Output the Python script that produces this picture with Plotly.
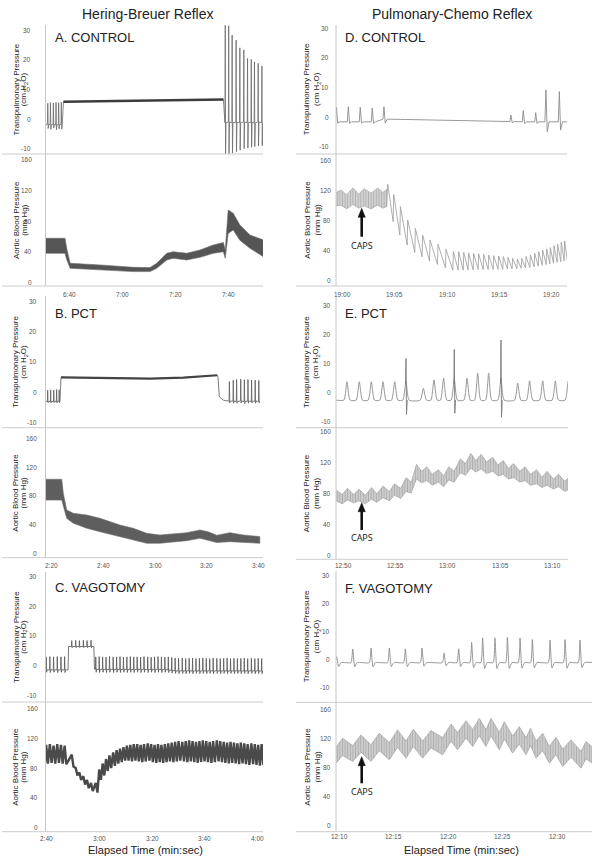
import plotly.graph_objects as go

W, H = 600, 864

# ======================= DATA =======================
# time in seconds; transpulmonary pressure in cm H2O; aortic pressure in mm Hg

# ---- A. CONTROL (Hering-Breuer) ----
a_tp_pre_t = [391.9, 392.9, 394.0, 395.0, 396.0, 397.0]
a_tp_pre_peak = [5.3, 5.5, 5.4, 5.6, 5.5, 5.7]
a_tp_pre_trough = [-3.2, -3.5, -3.0, -3.6, -3.3, -3.4]
a_tp_pre_base = [-1.8, -1.9, -1.8, -2.0, -1.9, -1.8]
a_tp_hold_t = [397.8, 420.0, 440.0, 458.0]
a_tp_hold_v = [5.8, 6.1, 6.4, 6.6]
a_tp_post_t = [458.7, 460.0, 461.3, 462.8, 464.2, 465.7, 467.1, 468.5, 469.7, 471.1, 472.5]
a_tp_post_peak = [31.6, 31.4, 28.3, 26.6, 24.0, 23.3, 20.4, 20.1, 19.3, 18.8, 17.9]
a_tp_post_trough = [-11.7, -11.7, -11.5, -11.0, -10.5, -10.0, -9.8, -9.5, -9.3, -9.1, -9.0]
a_tp_post_base = [-1.2, -1.0, -1.3, -1.1, -1.2, -1.0, -1.2, -1.1, -1.3, -1.0, -1.2]

a_bp_t = [390.9, 398.4, 399.0, 400.3, 411.6, 424.1, 430.4, 432.9, 436.7, 439.1,
          444.2, 449.2, 454.2, 458.0, 458.7, 459.8, 461.7, 464.2, 468.0, 473.0]
a_bp_hi = [57.6, 57.6, 45.0, 24.9, 22.7, 19.6, 19.2, 24.9, 38.0, 40.0,
           38.0, 42.3, 48.8, 52.0, 42.0, 94.6, 90.3, 75.0, 62.0, 55.4]
a_bp_lo = [37.9, 37.9, 30.0, 18.3, 16.0, 14.0, 14.0, 18.3, 29.2, 31.4,
           29.2, 32.7, 37.9, 40.0, 31.4, 64.0, 68.5, 55.0, 44.5, 33.6]

# ---- B. PCT (Hering-Breuer) ----
b_tp_pre_t = [138.45, 139.6, 140.8, 141.9, 142.9]
b_tp_pre_peak = [0.7, 0.8, 0.7, 0.9, 0.8]
b_tp_pre_trough = [-3.4, -3.5, -3.4, -3.5, -3.4]
b_tp_pre_base = [-3.0, -3.0, -3.0, -3.0, -3.0]
b_tp_hold_t = [143.6, 158.7, 178.1, 191.0, 204.1]
b_tp_hold_v = [4.9, 4.8, 4.5, 4.8, 5.6]
b_tp_release_t = [204.4, 204.9, 206.5, 208.0]
b_tp_release_v = [5.0, -1.5, -2.6, -2.9]
b_tp_post_t = [208.8, 210.3, 211.6, 213.2, 214.6, 216.0, 217.4, 218.8, 220.2]
b_tp_post_peak = [3.5, 4.0, 4.2, 4.3, 4.1, 4.2, 4.0, 4.0, 3.9]
b_tp_post_trough = [-3.5, -3.6, -3.6, -3.5, -3.7, -3.6, -3.5, -3.6, -3.5]
b_tp_post_base = [-2.9, -2.9, -3.0, -2.9, -3.0, -2.9, -3.0, -2.9, -3.0]

b_bp_t = [137.4, 143.9, 144.5, 145.8, 148.4, 153.6, 158.7, 162.6, 166.4, 171.6,
          176.8, 181.9, 187.1, 192.3, 197.4, 200.6, 203.9, 209.0, 214.2, 220.6]
b_bp_hi = [103, 103, 83.5, 60.3, 55.6, 53.3, 48.7, 44, 39.4, 34.8,
           27.8, 25.5, 27, 28.7, 32.4, 30, 25, 28.7, 25.5, 23.2]
b_bp_lo = [74, 74, 65, 48.7, 41.7, 34.8, 30, 25.5, 23.2, 18.5,
           13.9, 13.9, 15.3, 17.6, 20.9, 18.5, 15, 16.2, 14.8, 13.9]

# ---- C. VAGOTOMY (Hering-Breuer) ----
c_tp_pre_t = [159.8, 161.2, 162.6, 164.0, 165.4, 166.8]
c_tp_pre_peak = [2.9, 3.0, 2.9, 3.0, 2.9, 3.0]
c_tp_pre_trough = [-2.3, -2.4, -2.3, -2.4, -2.3, -2.4]
c_tp_pre_base = [-1.5, -1.5, -1.5, -1.5, -1.5, -1.5]
c_tp_hold_t = [169.5, 171.0, 172.4, 173.9, 175.3, 176.8]
c_tp_hold_peak = [8.4, 8.5, 8.4, 8.5, 8.4, 8.5]
c_tp_hold_trough = [6.0, 6.0, 6.0, 6.0, 6.0, 6.0]
c_tp_hold_base = [6.4, 6.4, 6.4, 6.4, 6.4, 6.4]
c_tp_post_t = [178.6, 179.9, 181.2, 182.5, 183.8, 185.2, 186.5, 187.8, 189.1, 190.4,
               191.7, 193.0, 194.3, 195.6, 196.9, 198.3, 199.6, 200.9, 202.2, 203.5,
               204.8, 206.1, 207.4, 208.7, 210.0, 211.4, 212.7, 214.0, 215.3, 216.6,
               217.9, 219.2, 220.5, 221.8, 223.1, 224.5, 225.8, 227.1, 228.4, 229.7,
               231.0, 232.3, 233.6, 234.9, 236.2, 237.6, 238.9, 240.2, 241.5]
c_tp_post_peak = [2.9, 3.0, 2.9, 2.8, 3.0, 2.9, 2.9, 3.0, 2.8, 2.9,
                  3.0, 2.9, 2.9, 2.8, 3.0, 2.9, 2.8, 2.9, 3.0, 2.9,
                  2.8, 2.9, 2.7, 2.5, 2.4, 2.5, 2.3, 2.4, 2.5, 2.3,
                  2.4, 2.5, 2.4, 2.3, 2.5, 2.4, 2.3, 2.4, 2.5, 2.3,
                  2.4, 2.3, 2.4, 2.5, 2.3, 2.4, 2.3, 2.4, 2.3]
c_tp_post_trough = [-2.3, -2.4, -2.3, -2.4, -2.3, -2.4, -2.3, -2.4, -2.3, -2.4,
                    -2.3, -2.4, -2.3, -2.4, -2.3, -2.4, -2.3, -2.4, -2.3, -2.4,
                    -2.3, -2.4, -2.6, -2.7, -2.8, -2.7, -2.8, -2.7, -2.8, -2.7,
                    -2.8, -2.7, -2.8, -2.7, -2.8, -2.7, -2.8, -2.7, -2.8, -2.7,
                    -2.8, -2.7, -2.8, -2.7, -2.8, -2.7, -2.8, -2.7, -2.8]
c_tp_post_base = [-1.3, -1.4, -1.3, -1.4, -1.3, -1.4, -1.3, -1.4, -1.3, -1.4,
                  -1.3, -1.4, -1.3, -1.4, -1.3, -1.4, -1.3, -1.4, -1.3, -1.4,
                  -1.4, -1.5, -1.7, -1.8, -1.9, -1.8, -1.9, -1.8, -1.9, -1.8,
                  -1.9, -1.8, -1.9, -1.8, -1.9, -1.8, -1.9, -1.8, -1.9, -1.8,
                  -1.9, -1.8, -1.9, -1.8, -1.9, -1.8, -1.9, -1.8, -1.9]
# aortic pressure, one peak / trough per ventilator breath (pre, hold, post breaths)
c_bp_peak = [111, 112, 110, 112, 111, 110,
             98, 80, 74, 69, 64, 60,
             60, 78, 86, 92, 97, 101, 104, 106, 108, 110,
             111, 112, 112, 111, 112, 113, 112, 111, 112, 111,
             112, 113, 114, 115, 116, 115, 116, 117, 116, 115,
             116, 117, 116, 115, 116, 117, 116, 115, 114, 115,
             114, 113, 114, 113, 112, 113, 112, 111, 112]
c_bp_trough = [86, 87, 86, 87, 86, 85,
               82, 70, 64, 58, 53, 49,
               47, 64, 70, 76, 80, 83, 86, 88, 90, 90,
               89, 90, 89, 88, 89, 90, 88, 87, 88, 87,
               88, 89, 88, 89, 90, 89, 88, 89, 88, 87,
               88, 89, 88, 87, 88, 89, 88, 87, 86, 87,
               86, 85, 86, 85, 84, 85, 84, 83, 84]

# ---- D. CONTROL (Pulmonary-Chemo) ----
d_tp_t = [1139.4, 1140.54, 1141.68, 1142.83, 1143.95, 1156.1, 1157.28, 1158.47, 1159.45, 1160.73]
d_tp_peak = [3.3, 3.5, 3.3, 3.1, 3.5, 0.7, 2.2, 1.5, 9.2, 8.6]
d_tp_under = [-2.0, -2.1, -2.0, -2.1, -2.0, -1.9, -2.2, -2.1, -4.9, -4.4]
d_tp_base = [-1.6, -1.6, -1.6, -1.6, -0.7, -1.5, -1.6, -1.6, -1.6, -1.6]
d_tp_flat_t = [1146.0, 1150.0, 1154.0, 1161.5]
d_tp_flat_v = [-0.8, -1.0, -1.4, -1.6]

d_bp_band_t = [1139.36, 1139.84, 1140.38, 1140.96, 1141.53, 1142.07, 1142.71, 1143.35, 1143.83, 1144.2]
d_bp_band_hi = [118, 121, 115, 124, 116, 123, 117, 124, 118, 122]
d_bp_band_lo = [100, 101, 96, 102, 97, 100, 96, 101, 97, 99]
d_bp_beat_t = [1144.31, 1144.88, 1145.52, 1146.22, 1146.95, 1147.65, 1148.36, 1149.12, 1149.88, 1150.59,
               1151.10, 1151.58, 1152.05, 1152.53, 1153.01, 1153.49, 1153.97, 1154.45, 1154.92, 1155.37,
               1155.82, 1156.26, 1156.71, 1157.13, 1157.54, 1157.96, 1158.37, 1158.76, 1159.14, 1159.52,
               1159.87, 1160.22, 1160.57, 1160.92, 1161.24]
d_bp_beat_peak = [128.9, 115.4, 99, 81.2, 70, 61, 54.4, 48.6, 42, 38.9,
                  38.9, 38, 37, 36.6, 36, 35.3, 34.4, 33.5, 33, 32.2,
                  31, 30, 29, 30, 32.2, 34.4, 36.6, 38.9, 41, 42.5,
                  44.2, 46.9, 48.6, 51.4, 53.2]
d_bp_beat_trough = [78.9, 61, 47.6, 37.8, 32, 26.2, 21.8, 17.3, 14.2, 14.2,
                    14.2, 14.5, 14.5, 14.8, 14.8, 15, 15, 15.3, 15.3, 15.5,
                    15.8, 16, 16.5, 17, 17.5, 18.5, 19.5, 20.5, 21.5, 22.5,
                    23.5, 24.5, 25.5, 26.5, 27]

# ---- E. PCT (Pulmonary-Chemo) ----
e_tp_t = [770.35, 771.53, 772.68, 773.8, 774.92, 776.0, 777.66, 778.68, 779.6, 780.62,
          781.84, 782.86, 783.91, 785.09, 786.69, 787.83, 789.08, 790.29, 791.53]
e_tp_peak = [3.7, 3.7, 3.7, 3.7, 3.7, 4.0, 1.4, 4.3, 4.9, 4.5,
             4.9, 6.6, 6.6, 5.0, 3.2, 4.0, 4.0, 4.0, 4.0]
e_tp_base = [-2.6, -2.6, -2.6, -2.6, -2.6, -2.6, -2.6, -2.6, -2.6, -2.6,
             -2.6, -2.6, -2.6, -2.6, -2.6, -2.6, -2.6, -2.6, -2.6]
e_tp_spk_t = [776.0, 780.62, 785.09]
e_tp_spk_hi = [11.7, 14.8, 18.0]
e_tp_spk_lo = [-7.5, -7.1, -8.5]

e_bp_t = [769.3, 769.9, 770.4, 771.0, 771.5, 772.1, 772.7, 773.2, 773.8, 774.4,
          774.9, 775.5, 776.0, 776.5, 777.0, 777.5, 778.0, 778.5, 779.1, 779.6,
          780.1, 780.6, 781.2, 781.7, 782.2, 782.7, 783.2, 783.7, 784.3, 784.8,
          785.3, 785.8, 786.3, 786.9, 787.4, 787.9, 788.5, 789.0, 789.5, 790.1,
          790.6, 791.2, 791.5]
e_bp_hi = [84, 78, 86, 78, 85, 77, 87, 79, 89, 82,
           92, 86, 100, 94, 117, 108, 114, 104, 110, 102,
           114, 108, 124, 118, 131, 122, 130, 120, 126, 116,
           122, 112, 118, 108, 114, 104, 110, 100, 108, 98,
           104, 95, 99]
e_bp_lo = [70, 66, 71, 67, 70, 66, 72, 68, 74, 70,
           77, 73, 82, 80, 98, 93, 96, 90, 94, 88,
           97, 94, 106, 103, 112, 107, 111, 105, 108, 102,
           104, 98, 100, 94, 96, 90, 92, 87, 90, 85,
           88, 82, 84]

# ---- F. VAGOTOMY (Pulmonary-Chemo) ----
f_tp_t = [729.76, 731.23, 732.91, 734.59, 736.06, 737.59, 739.61, 740.95, 742.14, 743.15,
          744.28, 745.42, 746.58, 747.71, 749.33, 750.71, 752.08]
f_tp_peak = [0.9, 3.6, 4.0, 4.0, 3.7, 4.0, 2.2, 3.7, 6.0, 7.6,
             7.6, 7.8, 7.6, 7.0, 6.8, 7.0, 6.8]
f_tp_under = [-2.6, -2.7, -2.7, -2.6, -2.6, -2.5, -2.3, -2.6, -3.0, -3.3,
              -3.3, -3.3, -3.2, -3.1, -3.1, -3.2, -3.0]
f_tp_base = [-1.2, -1.2, -1.2, -1.2, -1.2, -1.2, -1.2, -1.2, -1.2, -1.2,
             -1.2, -1.2, -1.2, -1.2, -1.2, -1.2, -1.2]

f_bp_t = [729.7, 730.31, 731.23, 731.99, 732.91, 733.67, 734.59, 735.35, 736.12, 736.79,
          737.65, 738.41, 739.48, 740.25, 740.86, 741.62, 742.24, 742.84, 743.46, 743.92,
          744.68, 745.14, 745.9, 746.51, 747.13, 747.55, 748.05, 748.66, 749.27, 749.88,
          750.49, 751.26, 752.17, 752.63, 753.2]
f_bp_hi = [108, 120, 110, 124.6, 111, 126.8, 114, 131.5, 116, 132.4,
           116, 130.6, 121, 139.7, 128, 144.3, 132, 147.5, 132, 147.5,
           128, 142.9, 123, 136, 121, 133.8, 116, 126.8, 109, 121.3,
           105, 117.7, 102, 115.4, 108]
f_bp_lo = [85.5, 96, 87.8, 100.6, 87.8, 102.8, 90.1, 107.5, 92.4, 108.4,
           92.4, 106.6, 97, 115.7, 103.9, 120.3, 108.5, 123.5, 108.5, 123.5,
           103.9, 118.9, 99.3, 112, 97, 109.8, 92.4, 102.8, 85.5, 97.3,
           80.9, 93.7, 78.6, 91.4, 85.5]

# ---- ticks ----
tp_ticks = [-10, 0, 10, 20, 30]
bp_ticks = [0, 40, 80, 120, 160]
a_xticks, a_xlabels = [400, 420, 440, 460], ["6:40", "7:00", "7:20", "7:40"]
b_xticks, b_xlabels = [140, 160, 180, 200, 220], ["2:20", "2:40", "3:00", "3:20", "3:40"]
c_xticks, c_xlabels = [160, 180, 200, 220, 240], ["2:40", "3:00", "3:20", "3:40", "4:00"]
d_xticks, d_xlabels = [1140, 1145, 1150, 1155, 1160], ["19:00", "19:05", "19:10", "19:15", "19:20"]
e_xticks, e_xlabels = [770, 775, 780, 785, 790], ["12:50", "12:55", "13:00", "13:05", "13:10"]
f_xticks, f_xlabels = [730, 735, 740, 745, 750], ["12:10", "12:15", "12:20", "12:25", "12:30"]

# ======================= LAYOUT GEOMETRY (pixels) =======================
# idx: (x0, x1, y0, y1, (v_a, py_a), (v_b, py_b), (t_a, px_a), (t_b, px_b), ytick_right_px, xtick_y_px)
geo = {
    1: (45.5, 263, 25, 154, (30, 30.0), (-10, 148.7), (400, 69.3), (460, 228.7), 32.5, None),
    2: (45.5, 263, 154, 286, (160, 160.0), (0, 282.3), (400, 69.3), (460, 228.7), 34.0, 294.0),
    3: (45.5, 263, 296, 427.7, (30, 301.0), (-10, 422.7), (140, 51.7), (220, 258.3), 39.5, None),
    4: (45.5, 263, 427.7, 557.7, (160, 438.3), (0, 553.3), (140, 51.7), (220, 258.3), 39.5, 565.0),
    5: (45.5, 263, 572, 702, (30, 576.7), (-10, 695.0), (160, 46.7), (240, 257.7), 39.5, None),
    6: (45.5, 263, 702, 831.7, (160, 708.3), (0, 827.7), (160, 46.7), (240, 257.7), 40.0, 838.0),
    7: (336, 567, 25, 154, (30, 28.3), (-10, 146.7), (1140, 342.7), (1160, 551.7), 331.0, None),
    8: (336, 567, 154, 286, (160, 161.0), (0, 280.7), (1140, 342.7), (1160, 551.7), 332.5, 294.0),
    9: (336, 568, 297, 427.7, (30, 305.0), (-10, 421.7), (770, 343.3), (790, 552.3), 332.5, None),
    10: (336, 568, 427.7, 559.3, (160, 431.0), (0, 555.0), (770, 343.3), (790, 552.3), 333.0, 565.0),
    11: (336, 592, 571, 702.3, (30, 575.0), (-10, 687.3), (730, 339.3), (750, 557.3), 332.0, None),
    12: (336, 592, 702.3, 831.7, (160, 709.3), (0, 825.0), (730, 339.3), (750, 557.3), 333.0, 836.7),
}
xtick_sets = {2: (a_xticks, a_xlabels), 4: (b_xticks, b_xlabels), 6: (c_xticks, c_xlabels),
              8: (d_xticks, d_xlabels), 10: (e_xticks, e_xlabels), 12: (f_xticks, f_xlabels)}

FONT = "Liberation Sans, Arial, Helvetica, sans-serif"
fig = go.Figure()
layout = dict(width=W, height=H, margin=dict(l=0, r=0, t=0, b=0), showlegend=False,
              paper_bgcolor="white", plot_bgcolor="white", hovermode=False,
              font=dict(family=FONT, color="#222", size=8))

for i, (x0, x1, y0, y1, (va, pa), (vb, pb), (ta, qa), (tb, qb), _r, _b) in geo.items():
    ppu = (pb - pa) / (va - vb)
    ytop = va + (pa - y0) / ppu
    ybot = vb - (y1 - pb) / ppu
    pps = (qb - qa) / (tb - ta)
    xl = ta - (qa - x0) / pps
    xr = tb + (x1 - qb) / pps
    xkey = "xaxis" if i == 1 else f"xaxis{i}"
    ykey = "yaxis" if i == 1 else f"yaxis{i}"
    layout[xkey] = dict(domain=[x0 / W, x1 / W], range=[xl, xr], anchor=f"y{i}" if i > 1 else "y",
                        visible=False, fixedrange=True)
    layout[ykey] = dict(domain=[1 - y1 / H, 1 - y0 / H], range=[ybot, ytop],
                        anchor=f"x{i}" if i > 1 else "x", visible=False, fixedrange=True)
fig.update_layout(**layout)


def axes(i):
    return ("x" if i == 1 else f"x{i}"), ("y" if i == 1 else f"y{i}")


def line(i, xs, ys, color, width, shape="linear", smoothing=1.0):
    xa, ya = axes(i)
    fig.add_trace(go.Scatter(x=xs, y=ys, mode="lines", xaxis=xa, yaxis=ya,
                             line=dict(color=color, width=width, shape=shape,
                                       smoothing=smoothing if shape == "spline" else None),
                             hoverinfo="skip"))


def band(i, ts, hi, lo, fill, edge, width=0.6, pattern=None):
    xa, ya = axes(i)
    kw = {}
    if pattern:
        kw["fillpattern"] = pattern
    fig.add_trace(go.Scatter(x=list(ts) + list(ts)[::-1], y=list(hi) + list(lo)[::-1],
                             mode="lines", fill="toself", fillcolor=fill, xaxis=xa, yaxis=ya,
                             line=dict(color=edge, width=width), hoverinfo="skip", **kw))


def spikes(ts, peaks, troughs, bases, up, dn, rec):
    xs, ys = [], []
    for t, p, q, b in zip(ts, peaks, troughs, bases):
        xs += [t - up, t, t + dn, t + rec]
        ys += [b, p, q, b]
    return xs, ys


def hatch(fg, bg):
    return dict(shape="|", size=2.6, solidity=0.45, fgcolor=fg, bgcolor=bg, fillmode="overlay")


# ---- A ----
x1s, y1s = spikes(a_tp_pre_t, a_tp_pre_peak, a_tp_pre_trough, a_tp_pre_base, 0.12, 0.15, 0.35)
x2s, y2s = spikes(a_tp_post_t, a_tp_post_peak, a_tp_post_trough, a_tp_post_base, 0.12, 0.12, 0.3)
line(1, [a_bp_t[0]] + x1s + a_tp_hold_t + x2s,
     [a_tp_pre_base[0]] + y1s + a_tp_hold_v + y2s, "#6a6a6a", 0.8)
line(1, a_tp_hold_t, a_tp_hold_v, "#3c3c3c", 2.6)
band(2, a_bp_t, a_bp_hi, a_bp_lo, "#555555", "#6a6a6a")

# ---- B ----
x1s, y1s = spikes(b_tp_pre_t, b_tp_pre_peak, b_tp_pre_trough, b_tp_pre_base, 0.1, 0.12, 0.3)
x2s, y2s = spikes(b_tp_post_t, b_tp_post_peak, b_tp_post_trough, b_tp_post_base, 0.12, 0.15, 0.35)
line(3, [b_bp_t[0]] + x1s + b_tp_hold_t + b_tp_release_t + x2s,
     [b_tp_pre_base[0]] + y1s + b_tp_hold_v + b_tp_release_v + y2s, "#5a5a5a", 0.8)
line(3, b_tp_hold_t, b_tp_hold_v, "#444444", 2.2)
band(4, b_bp_t, b_bp_hi, b_bp_lo, "#5e5e5e", "#707070")

# ---- C ----
x1s, y1s = spikes(c_tp_pre_t, c_tp_pre_peak, c_tp_pre_trough, c_tp_pre_base, 0.1, 0.15, 0.35)
x2s, y2s = spikes(c_tp_hold_t, c_tp_hold_peak, c_tp_hold_trough, c_tp_hold_base, 0.1, 0.15, 0.35)
x3s, y3s = spikes(c_tp_post_t, c_tp_post_peak, c_tp_post_trough, c_tp_post_base, 0.1, 0.15, 0.35)
line(5, [159.3] + x1s + [168.1, 168.3] + x2s + [177.9, 178.1] + x3s,
     [c_tp_pre_base[0]] + y1s + [c_tp_pre_base[0], c_tp_hold_base[0]] + y2s
     + [c_tp_hold_base[0], c_tp_post_base[0]] + y3s, "#555555", 0.8)
c_breath_t = c_tp_pre_t + c_tp_hold_t + c_tp_post_t
cx, cy = [159.3], [c_bp_trough[0]]
for t, p, q in zip(c_breath_t, c_bp_peak, c_bp_trough):
    cx += [t, t + 0.65]
    cy += [p, q]
line(6, cx, cy, "#4a4a4a", 2.4)

# ---- D ----
hx, hy = spikes(d_tp_t, d_tp_peak, d_tp_under, d_tp_base, 0.1, 0.12, 0.3)
pts = sorted(zip(hx + d_tp_flat_t, hy + d_tp_flat_v))
line(7, [p[0] for p in pts], [p[1] for p in pts], "#8c8c8c", 0.9)
band(8, d_bp_band_t, d_bp_band_hi, d_bp_band_lo, "#c4c4c4", "#a0a0a0",
     pattern=hatch("#8e8e8e", "#d6d6d6"))
bx, by = [d_bp_band_t[-1]], [d_bp_band_lo[-1]]
for k, (t, p, q) in enumerate(zip(d_bp_beat_t, d_bp_beat_peak, d_bp_beat_trough)):
    nxt = d_bp_beat_t[k + 1] if k + 1 < len(d_bp_beat_t) else t + 0.3
    bx += [t, nxt - 0.05]
    by += [p, q]
line(8, bx, by, "#9a9a9a", 0.8)

# ---- E ----
ex, ey = [769.3], [e_tp_base[0]]
for t, p, b in zip(e_tp_t, e_tp_peak, e_tp_base):
    ex += [t - 0.3, t, t + 0.3]
    ey += [b, p, b]
line(9, ex, ey, "#8c8c8c", 0.9, "spline", 0.6)
sx, sy = [], []
for t, hi, lo in zip(e_tp_spk_t, e_tp_spk_hi, e_tp_spk_lo):
    sx += [t - 0.04, t, t + 0.05, t + 0.12, None]
    sy += [3.0, hi, lo, -2.6, None]
line(9, sx, sy, "#7a7a7a", 0.9)
band(10, e_bp_t, e_bp_hi, e_bp_lo, "#b8b8b8", "#9c9c9c", pattern=hatch("#8a8a8a", "#d2d2d2"))

# ---- F ----
fx, fy = spikes(f_tp_t, f_tp_peak, f_tp_under, f_tp_base, 0.16, 0.18, 0.42)
line(11, fx + [753.3], fy + [f_tp_base[-1]], "#8c8c8c", 0.9, "spline", 0.5)
band(12, f_bp_t, f_bp_hi, f_bp_lo, "#b8b8b8", "#9a9a9a", pattern=hatch("#8a8a8a", "#d2d2d2"))

# ======================= DECORATION =======================
shapes = []
for i, (x0, x1, y0, y1, *_rest) in geo.items():
    shapes.append(dict(type="line", xref="paper", yref="paper", x0=x0 / W, x1=x0 / W,
                       y0=1 - y0 / H, y1=1 - y1 / H, line=dict(color="#c6c6c6", width=1)))
    hx0 = 2 if x0 < 300 else 296
    shapes.append(dict(type="line", xref="paper", yref="paper", x0=hx0 / W, x1=x1 / W,
                       y0=1 - y1 / H, y1=1 - y1 / H, line=dict(color="#cccccc", width=1)))

# CAPS arrows (shaft + filled head) drawn as shapes
for head_y, tail_y in [(208.3, 236.7), (502.7, 530.0), (756.7, 783.3)]:
    ax_ = 361.7
    shapes.append(dict(type="line", xref="paper", yref="paper", x0=ax_ / W, x1=ax_ / W,
                       y0=1 - (head_y + 7) / H, y1=1 - tail_y / H,
                       line=dict(color="#111", width=2.6)))
    path = "M {:.5f} {:.5f} L {:.5f} {:.5f} L {:.5f} {:.5f} Z".format(
        ax_ / W, 1 - head_y / H, (ax_ - 3.6) / W, 1 - (head_y + 9) / H,
        (ax_ + 3.6) / W, 1 - (head_y + 9) / H)
    shapes.append(dict(type="path", xref="paper", yref="paper", path=path,
                       fillcolor="#111", line=dict(color="#111", width=0.5)))

ann = []


def text(x, y, s, size, xanchor="center", angle=0, family=FONT, color="#222"):
    ann.append(dict(x=x / W, y=1 - y / H, xref="paper", yref="paper", text=s, showarrow=False,
                    xanchor=xanchor, yanchor="middle", textangle=angle,
                    font=dict(size=size, family=family, color=color)))


# tick labels, placed on the library's own axes
for i, (x0, x1, y0, y1, _a, _b, _c, _d, yr, xb) in geo.items():
    xa, ya = axes(i)
    for v in (tp_ticks if i % 2 == 1 else bp_ticks):
        ann.append(dict(x=yr / W, xref="paper", y=v, yref=ya, text=str(v), showarrow=False,
                        xanchor="right", yanchor="middle",
                        font=dict(size=6.5, family=FONT, color="#555")))
    if i in xtick_sets:
        for t, lab in zip(*xtick_sets[i]):
            ann.append(dict(x=t, xref=xa, y=1 - xb / H, yref="paper", text=lab, showarrow=False,
                            xanchor="center", yanchor="middle",
                            font=dict(size=6.5, family=FONT, color="#555")))

text(147.5, 13.5, "Hering-Breuer Reflex", 14)
text(451.7, 13.5, "Pulmonary-Chemo Reflex", 14)
for s, x, y in [("A. CONTROL", 52.5, 37.7), ("B. PCT", 53.0, 313.3), ("C. VAGOTOMY", 52.5, 587.3),
                ("D. CONTROL", 343.0, 37.7), ("E. PCT", 342.5, 313.3), ("F. VAGOTOMY", 342.5, 588.3)]:
    text(x, y, s, 13, xanchor="left")

for i, (x0, x1, y0, y1, *_rest) in geo.items():
    l1x, l2x = (16.0, 23.8) if x0 < 300 else (306.7, 316.5)
    yc = (y0 + y1) / 2
    if i % 2 == 1:
        text(l1x, yc, "Transpulmonary Pressure", 8, angle=-90)
        text(l2x, yc, "(cm H<sub>2</sub>O)", 8, angle=-90)
    else:
        text(l1x, yc, "Aortic Blood Pressure", 8, angle=-90)
        text(l2x, yc, "(mm Hg)", 8, angle=-90)
text(145.8, 850, "Elapsed Time (min:sec)", 11)
text(461.2, 850, "Elapsed Time (min:sec)", 11)

for lab_y in [245.0, 537.3, 791.7]:
    text(361.7, lab_y, "CAPS", 9, family="Open Sans, Liberation Sans, sans-serif", color="#111")

fig.update_layout(shapes=shapes, annotations=ann)
fig.write_html("out.html", config={"displayModeBar": False, "staticPlot": True},
               post_script="document.body.style.margin='0';")
